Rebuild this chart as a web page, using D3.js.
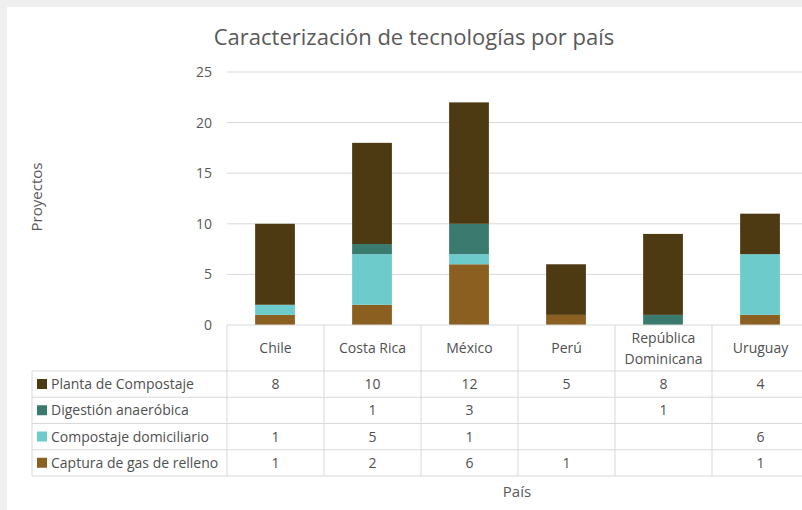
<!DOCTYPE html>
<html>
<head>
<meta charset="utf-8">
<script src="https://cdn.jsdelivr.net/npm/d3@7"></script>
<style>
  body{margin:0;background:#efefef;overflow:hidden;}
  svg{display:block;font-family:"Open Sans",sans-serif;}
</style>
</head>
<body>
<div id="chart"></div>
<script>
var paises=["Chile","Costa Rica","México","Perú","República Dominicana","Uruguay"];
var series=["Planta de Compostaje","Digestión anaeróbica","Compostaje domiciliario","Captura de gas de relleno"];
var planta=[8,10,12,5,8,4];
var digestion=[null,1,3,null,1,null];
var domiciliario=[1,5,1,null,null,6];
var captura=[1,2,6,1,null,1];
var yTicks=[0,5,10,15,20,25];
var colores=["#4d3a12","#3b7a6e","#6dcbcc","#8a5f1f"];

var valores=[planta,digestion,domiciliario,captura];
var W=802,H=510;
var svg=d3.select("#chart").append("svg").attr("width",W).attr("height",H);

// panel blanco
svg.append("rect").attr("x",7).attr("y",7).attr("width",W).attr("height",H).attr("fill","#fff");

var x=d3.scaleBand().domain(paises).range([227,809]);
var y=d3.scaleLinear().domain([0,25]).range([325,72]);
var bw=x.bandwidth();

svg.append("text").attr("x",414).attr("y",45).attr("text-anchor","middle")
  .attr("font-size",22).attr("fill","#595959").text("Caracterización de tecnologías por país");

// rejilla
svg.selectAll(".grid").data(yTicks.slice(1)).enter().append("line")
  .attr("x1",227).attr("x2",W).attr("y1",function(d){return y(d);}).attr("y2",function(d){return y(d);})
  .attr("stroke","#d9d9d9").attr("stroke-width",1);

var yAxis=svg.append("g").attr("transform","translate(227,0)")
  .call(d3.axisLeft(y).tickValues(yTicks).tickSize(0).tickPadding(15));
yAxis.select(".domain").remove();
yAxis.selectAll("text").attr("font-size",14).attr("fill","#595959").attr("font-family","Open Sans");

svg.append("text").attr("transform","translate(42,197) rotate(-90)").attr("text-anchor","middle")
  .attr("font-size",15).attr("fill","#595959").text("Proyectos");

// barras apiladas (orden de abajo hacia arriba)
var datos=paises.map(function(p,i){
  var o={pais:p};
  series.forEach(function(s,j){o[s]=valores[j][i]||0;});
  return o;
});
var stack=d3.stack().keys(series.slice().reverse())(datos);
svg.selectAll(".serie").data(stack).enter().append("g")
  .attr("fill",function(d){return colores[series.indexOf(d.key)];})
  .selectAll("rect").data(function(d){return d;}).enter().append("rect")
  .attr("x",function(d){return x(d.data.pais)+bw*0.29;})
  .attr("width",bw*0.41)
  .attr("y",function(d){return y(d[1]);})
  .attr("height",function(d){return y(d[0])-y(d[1]);});

// tabla de datos
var filaY=d3.scaleLinear().domain([0,4]).range([371,476]);
var lc="#d9d9d9";
var tc="#505050";
svg.append("line").attr("x1",227).attr("x2",W).attr("y1",325).attr("y2",325).attr("stroke",lc);
d3.range(5).forEach(function(i){
  svg.append("line").attr("x1",32).attr("x2",W).attr("y1",filaY(i)).attr("y2",filaY(i)).attr("stroke",lc);
});
svg.append("line").attr("x1",32).attr("x2",32).attr("y1",371).attr("y2",476).attr("stroke",lc);
paises.forEach(function(p){
  svg.append("line").attr("x1",x(p)).attr("x2",x(p)).attr("y1",325).attr("y2",476).attr("stroke",lc);
});

paises.forEach(function(p){
  var partes=p=="República Dominicana"?["República","Dominicana"]:[p];
  partes.forEach(function(t,k){
    svg.append("text").attr("x",x(p)+bw/2)
      .attr("y",partes.length==1?353:343+k*21)
      .attr("text-anchor","middle").attr("font-size",14).attr("fill",tc).text(t);
  });
});

series.forEach(function(s,j){
  var cy=filaY(j)+13;
  svg.append("rect").attr("x",37).attr("y",cy-5).attr("width",10).attr("height",10).attr("fill",colores[j]);
  svg.append("text").attr("x",51).attr("y",cy+5).attr("font-size",14).attr("fill",tc).text(s);
  valores[j].forEach(function(v,i){
    if(v==null) return;
    svg.append("text").attr("x",x(paises[i])+bw/2).attr("y",cy+5).attr("text-anchor","middle")
      .attr("font-size",14).attr("fill",tc).text(v);
  });
});

svg.append("text").attr("x",517).attr("y",497).attr("text-anchor","middle")
  .attr("font-size",15).attr("fill","#595959").text("País");
</script>
</body>
</html>
